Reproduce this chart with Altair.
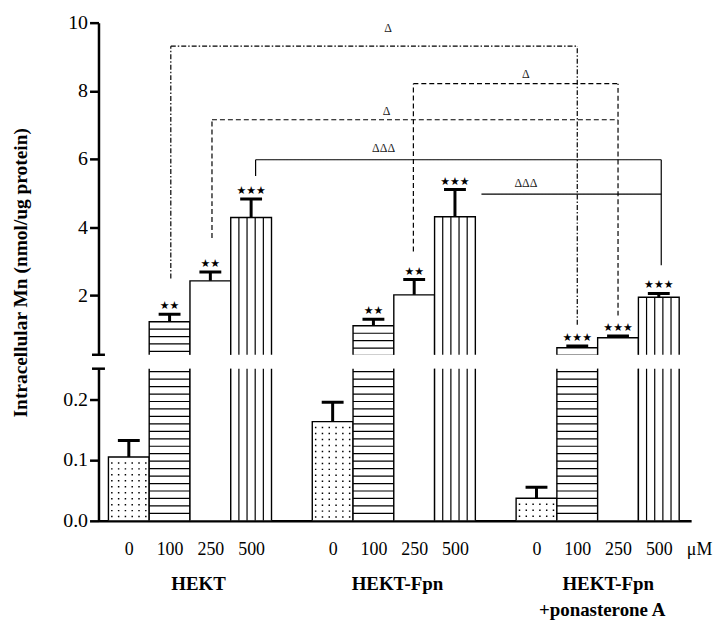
import json
import numpy as np
import pandas as pd
import altair as alt

# ---------------- data ----------------
group_names = ["HEKT", "HEKT-Fpn", "HEKT-Fpn +ponasterone A"]
concentrations = ["0", "100", "250", "500"]
fill_patterns = ["dots", "hlines", "blank", "vlines"]

hekt_mean = [0.105, 1.22, 2.42, 4.28]
hekt_sem = [0.027, 0.22, 0.26, 0.54]
fpn_mean = [0.163, 1.10, 2.01, 4.30]
fpn_sem = [0.032, 0.19, 0.45, 0.80]
pon_mean = [0.037, 0.455, 0.75, 1.94]
pon_sem = [0.018, 0.055, 0.05, 0.11]

hekt_stars = ["", "★★", "★★", "★★★"]
fpn_stars = ["", "★★", "★★", "★★★"]
pon_stars = ["", "★★★", "★★★", "★★★"]

# significance brackets (x in bar-slot units, y in nmol/ug protein)
br_x1 = [1.53, 7.48, 2.54, 3.61, 9.15]
br_x2 = [11.5, 12.5, 12.5, 13.56, 13.56]
br_top = [9.31, 8.21, 7.15, 5.975, 4.967]
br_left_end = [2.49, 3.28, 3.68, 5.50, None]
br_right_end = [1.13, 1.40, None, 2.875, None]
br_style = ["dashdot", "dash", "dash", "solid", "solid"]
br_label = ["Δ", "Δ", "Δ", "ΔΔΔ", "ΔΔΔ"]
br_label_x = [6.86, 10.24, 6.82, 6.75, 10.24]
br_label_y = [9.85, 8.50, 7.40, 6.33, 5.30]

gl_text = ["HEKT", "HEKT-Fpn", "HEKT-Fpn", "+ponasterone A"]
gl_x = [2.21, 7.09, 12.26, 12.11]
gl_line = [0, 0, 0, 1]

unit_label = "μM"
unit_x = 14.5

# ---------------- geometry ----------------
W = 596
H_UP = 334
H_LO = 153
XMIN, XMAX = -0.244, 14.293
BRK = 0.25
Y_UP = [BRK, 10]
Y_LO = [0, BRK]

px_up = H_UP / (Y_UP[1] - Y_UP[0])
px_lo = H_LO / (Y_LO[1] - Y_LO[0])
step_up = 7.45 / px_up
step_lo = 7.5 / px_lo
dot_row = 6.0 / px_lo

rows = []
for g, (m, s, st) in enumerate(zip([hekt_mean, fpn_mean, pon_mean],
                                   [hekt_sem, fpn_sem, pon_sem],
                                   [hekt_stars, fpn_stars, pon_stars])):
    for i in range(4):
        slot = g * 5 + i
        rows.append(dict(slot=slot, slot_end=slot + 1, mid=slot + 0.5,
                         mean=m[i], top=m[i] + s[i], base=0.0,
                         pattern=fill_patterns[i], stars=st[i],
                         group=group_names[g], conc=concentrations[i]))
bars = pd.DataFrame(rows)

hl_up, hl_lo, vl, dots = [], [], [], []
for r in bars.itertuples():
    if r.pattern == "hlines":
        k = 1
        while r.mean - k * step_up > BRK - step_up:
            hl_up.append(dict(x=r.slot, x2=r.slot_end, v=r.mean - k * step_up))
            k += 1
        k = 1
        while k * step_lo < min(r.mean, BRK + step_lo):
            hl_lo.append(dict(x=r.slot, x2=r.slot_end, v=k * step_lo))
            k += 1
    elif r.pattern == "vlines":
        for k in range(1, 5):
            vl.append(dict(x=r.slot + k / 5, v=0.0, v2=r.mean))
    elif r.pattern == "dots":
        k = 1
        while r.mean - k * dot_row > dot_row * 0.35:
            for j in range(6):
                dots.append(dict(x=r.slot + (j + 0.5) / 6, v=r.mean - k * dot_row))
            k += 1
hl_up = pd.DataFrame(hl_up)
hl_lo = pd.DataFrame(hl_lo)
vl = pd.DataFrame(vl)
dots = pd.DataFrame(dots)

segs = []
for i in range(len(br_x1)):
    segs.append(dict(x=br_x1[i], x2=br_x2[i], y=br_top[i], y2=br_top[i], style=br_style[i]))
    if br_left_end[i] is not None:
        segs.append(dict(x=br_x1[i], x2=br_x1[i], y=br_left_end[i], y2=br_top[i], style=br_style[i]))
    if br_right_end[i] is not None:
        segs.append(dict(x=br_x2[i], x2=br_x2[i], y=br_right_end[i], y2=br_top[i], style=br_style[i]))
segs = pd.DataFrame(segs)
blabels = pd.DataFrame(dict(x=br_label_x, y=br_label_y, text=br_label))
glabels = pd.DataFrame(dict(x=gl_x, text=gl_text, line=gl_line))
caps = pd.DataFrame(dict(x=[XMIN], y=[BRK]))
unit_df = pd.DataFrame(dict(x=[unit_x], text=[unit_label]))

SERIF = "Liberation Serif"
xs = alt.Scale(domain=[XMIN, XMAX], nice=False, zero=False)

axis_style = dict(tickSize=9, tickWidth=2.5, domainWidth=2.5, labelFontSize=20,
                  labelPadding=2, grid=False)
up_yaxis = alt.Axis(values=[2, 4, 6, 8, 10], format="d",
                    title="Intracellular Mn (nmol/ug protein)", titleFontSize=19.5,
                    titleFontWeight="bold", titleAngle=270, titleX=-78, titleY=251,
                    titleAlign="center", titleBaseline="middle", **axis_style)
lo_yaxis = alt.Axis(values=[0, 0.1, 0.2], format=".1f", title=None, **axis_style)
lo_xaxis = alt.Axis(values=[s + 0.5 for s in bars["slot"]],
                    labelExpr=json.dumps(concentrations) + "[floor(datum.value) % 5]",
                    ticks=False, tickSize=0, domainWidth=2.5, labelFontSize=18,
                    labelPadding=34, labelBaseline="alphabetic", labelFlush=False,
                    labelOverlap=False, title=None, grid=False)


def panel(ydom, yaxis, xaxis, hl_df, is_upper):
    ys = alt.Scale(domain=ydom, nice=False, zero=False)

    def X(f):
        return alt.X(f, scale=xs, axis=xaxis)

    def Y(f):
        return alt.Y(f, scale=ys, axis=yaxis)

    layers = [
        alt.Chart(bars).mark_bar(fill="white", stroke="black", strokeWidth=1.4, clip=True).encode(
            x=X("slot:Q"), x2="slot_end:Q", y=Y("mean:Q"), y2="base:Q"),
        alt.Chart(hl_df).mark_rule(color="black", strokeWidth=1.2, clip=True).encode(
            x=X("x:Q"), x2="x2:Q", y=Y("v:Q")),
        alt.Chart(vl).mark_rule(color="black", strokeWidth=1.2, clip=True).encode(
            x=X("x:Q"), y=Y("v:Q"), y2="v2:Q"),
        alt.Chart(bars).mark_rule(color="black", strokeWidth=3, clip=True).encode(
            x=X("mid:Q"), y=Y("mean:Q"), y2="top:Q"),
        alt.Chart(bars).mark_tick(color="black", orient="horizontal", size=22,
                                  thickness=3, clip=True, opacity=1).encode(
            x=X("mid:Q"), y=Y("top:Q")),
        alt.Chart(caps).mark_tick(color="black", orient="horizontal", size=13,
                                  thickness=2.5, opacity=1).encode(
            x=X("x:Q"), y=Y("y:Q")),
    ]
    if not is_upper:
        layers.insert(2, alt.Chart(dots).mark_square(color="black", size=2.2, opacity=1, clip=True).encode(
            x=X("x:Q"), y=Y("v:Q")))
        for ln, off in [(0, 70), (1, 96)]:
            layers.append(alt.Chart(glabels[glabels["line"] == ln]).mark_text(
                font=SERIF, fontSize=19, fontWeight="bold", baseline="alphabetic",
                color="black").encode(x=X("x:Q"), y=alt.value(H_LO + off), text="text:N"))
        layers.append(alt.Chart(unit_df).mark_text(font=SERIF, fontSize=18, baseline="alphabetic",
                                                   color="black").encode(
            x=X("x:Q"), y=alt.value(H_LO + 34), text="text:N"))
    else:
        layers.append(alt.Chart(bars[bars["stars"] != ""]).mark_text(
            font="DejaVu Sans", fontSize=11, baseline="alphabetic", dy=-5, color="black").encode(
            x=X("mid:Q"), y=Y("top:Q"), text="stars:N"))
        layers.append(alt.Chart(segs).mark_rule(color="black", strokeWidth=1.2).encode(
            x=X("x:Q"), x2="x2:Q", y=Y("y:Q"), y2="y2:Q",
            strokeDash=alt.StrokeDash("style:N", legend=None, scale=alt.Scale(
                domain=["dashdot", "dash", "solid"],
                range=[[5, 2, 1.5, 2], [5, 3], [1, 0]]))))
        layers.append(alt.Chart(blabels).mark_text(font=SERIF, fontSize=12, baseline="middle",
                                                   color="#222222").encode(
            x=X("x:Q"), y=Y("y:Q"), text="text:N"))
    return alt.layer(*layers).properties(width=W, height=(H_UP if is_upper else H_LO))


upper = panel(Y_UP, up_yaxis, None, hl_up, True)
lower = panel(Y_LO, lo_yaxis, lo_xaxis, hl_lo, False)

chart = alt.vconcat(upper, lower, spacing=14, bounds="flush").resolve_scale(
    x="independent", y="independent", strokeDash="independent"
).properties(
    padding={"left": 3, "top": 3, "right": 0, "bottom": 0}
).configure_view(stroke=None).configure_axis(
    labelFont=SERIF, titleFont=SERIF, labelColor="black", titleColor="black",
    domainColor="black", tickColor="black", grid=False
)

chart.save("out.html", embed_options={"renderer": "svg", "actions": False})
